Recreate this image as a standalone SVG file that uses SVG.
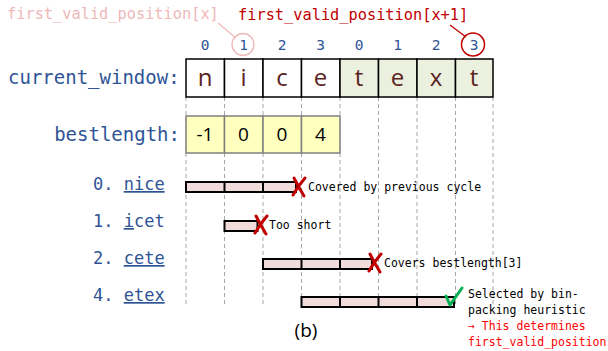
<svg xmlns="http://www.w3.org/2000/svg" width="608" height="351" viewBox="0 0 608 351">
<style>
.mono{font-family:"DejaVu Sans Mono","Liberation Mono",monospace}
.sans{font-family:"Open Sans","Liberation Sans",sans-serif}
.blue{fill:#2f5496}
.idx{font-size:14.5px;text-anchor:middle}
.lbl{font-size:19px}
.row{font-size:17px}
.ann{font-size:11.5px;fill:#000}
.cw{fill:#fff;stroke:#000;stroke-width:1.5}
.cwg{fill:#ebf1de;stroke:#000;stroke-width:1.5}
.ch{font-size:24px;fill:#5b2323;text-anchor:middle}
.bl{fill:#ffffbf;stroke:#808080;stroke-width:1.5}
.bn{font-size:19px;fill:#000;text-anchor:middle}
.bar{fill:#f2dcdb;stroke:#000;stroke-width:2}
.seg{stroke:#000;stroke-width:2}
.dash{stroke:#a6a6a6;stroke-width:1;stroke-dasharray:4 3}
.x{stroke:#c00000;stroke-width:3;fill:none;stroke-linecap:round}
</style>
<rect width="608" height="351" fill="#fff"/>
<g id="guides">
<line class="dash" x1="186" y1="97" x2="186" y2="304"/>
<line class="dash" x1="224.5" y1="97" x2="224.5" y2="304"/>
<line class="dash" x1="263" y1="97" x2="263" y2="304"/>
<line class="dash" x1="301.5" y1="97" x2="301.5" y2="304"/>
<line class="dash" x1="340" y1="97" x2="340" y2="304"/>
<line class="dash" x1="378.5" y1="97" x2="378.5" y2="304"/>
<line class="dash" x1="417" y1="97" x2="417" y2="304"/>
<line class="dash" x1="455.5" y1="97" x2="455.5" y2="304"/>
<line class="dash" x1="493" y1="97" x2="493" y2="304"/>
</g>
<g id="pointer-labels">
<text class="mono" x="7" y="19" font-size="15.3" fill="#eeb8b8">first_valid_position[x]</text>
<text class="mono" x="238" y="20" font-size="15.3" fill="#c00000">first_valid_position[x+1]</text>
</g>
<g id="connectors">
<line x1="218" y1="23" x2="236" y2="38" stroke="#eeb8b8" stroke-width="1.3"/>
<line x1="450" y1="25" x2="466" y2="37" stroke="#c00000" stroke-width="1.3"/>
<circle cx="243" cy="44.5" r="11" fill="none" stroke="#eeb8b8" stroke-width="1.3"/>
<circle cx="473" cy="44.5" r="11.5" fill="none" stroke="#c00000" stroke-width="1.5"/>
</g>
<g id="indices" class="mono blue idx">
<text x="205" y="50">0</text>
<text x="243.5" y="50">1</text>
<text x="282" y="50">2</text>
<text x="320.5" y="50">3</text>
<text x="359" y="50">0</text>
<text x="397.5" y="50">1</text>
<text x="436" y="50">2</text>
<text x="474" y="50">3</text>
</g>
<g id="current_window">
<text class="mono blue lbl" x="8" y="84">current_window:</text>
<rect class="cw" x="186" y="59" width="38.5" height="38"/>
<rect class="cw" x="224.5" y="59" width="38.5" height="38"/>
<rect class="cw" x="263" y="59" width="38.5" height="38"/>
<rect class="cw" x="301.5" y="59" width="38.5" height="38"/>
<rect class="cwg" x="340" y="59" width="38.5" height="38"/>
<rect class="cwg" x="378.5" y="59" width="38.5" height="38"/>
<rect class="cwg" x="417" y="59" width="38.5" height="38"/>
<rect class="cwg" x="455.5" y="59" width="37.5" height="38"/>
<g class="sans ch">
<text x="205" y="86">n</text>
<text x="243.5" y="86">i</text>
<text x="282" y="86">c</text>
<text x="320.5" y="86">e</text>
<text x="359" y="86">t</text>
<text x="397.5" y="86">e</text>
<text x="436" y="86">x</text>
<text x="474" y="86">t</text>
</g>
</g>
<g id="bestlength">
<text class="mono blue lbl" x="180" y="141" text-anchor="end">bestlength:</text>
<rect class="bl" x="186" y="116" width="38.5" height="37"/>
<rect class="bl" x="224.5" y="116" width="38.5" height="37"/>
<rect class="bl" x="263" y="116" width="38.5" height="37"/>
<rect class="bl" x="301.5" y="116" width="38.5" height="37"/>
<g class="sans bn">
<text x="205" y="141">-1</text>
<text x="243.5" y="141">0</text>
<text x="282" y="141">0</text>
<text x="320.5" y="141">4</text>
</g>
</g>
<g id="row-nice">
<text class="mono blue row" x="93" y="190">0. <tspan text-decoration="underline">nice</tspan></text>
<rect class="bar" x="186" y="182" width="110" height="10"/>
<line class="seg" x1="224.5" y1="182" x2="224.5" y2="192"/>
<line class="seg" x1="263" y1="182" x2="263" y2="192"/>
<path class="x" d="M294,178 Q298,186 304,196 M305,178 Q298,186 293,195"/>
<text class="mono ann" x="308" y="191">Covered by previous cycle</text>
</g>
<g id="row-icet">
<text class="mono blue row" x="93" y="227">1. <tspan text-decoration="underline">i</tspan>cet</text>
<rect class="bar" x="224.5" y="221" width="33" height="10"/>
<path class="x" d="M256,216 Q260,224 266,234 M267,216 Q260,224 255,233"/>
<text class="mono ann" x="269" y="229">Too short</text>
</g>
<g id="row-cete">
<text class="mono blue row" x="93" y="264">2. <tspan text-decoration="underline">cete</tspan></text>
<rect class="bar" x="263" y="259" width="109" height="10"/>
<line class="seg" x1="301.5" y1="259" x2="301.5" y2="269"/>
<line class="seg" x1="340" y1="259" x2="340" y2="269"/>
<path class="x" d="M370,254 Q374,262 380,272 M381,254 Q374,262 369,271"/>
<text class="mono ann" x="384" y="267">Covers bestlength[3]</text>
</g>
<g id="row-etex">
<text class="mono blue row" x="93" y="301">4. <tspan text-decoration="underline">etex</tspan></text>
<rect class="bar" x="301.5" y="297" width="152.5" height="10"/>
<line class="seg" x1="340" y1="297" x2="340" y2="307"/>
<line class="seg" x1="378.5" y1="297" x2="378.5" y2="307"/>
<line class="seg" x1="417" y1="297" x2="417" y2="307"/>
<path d="M446,296 L450,305 L462,288" fill="none" stroke="#00b050" stroke-width="3" stroke-linecap="round" stroke-linejoin="round"/>
<text class="mono ann" x="468" y="298">Selected by bin-</text>
<text class="mono ann" x="468" y="314">packing heuristic</text>
<text class="mono ann" x="468" y="330" style="fill:#ff0000">→ This determines</text>
<text class="mono ann" x="468" y="346" style="fill:#ff0000">first_valid_position</text>
</g>
<text class="sans" x="306" y="337" font-size="19" text-anchor="middle" fill="#000">(b)</text>
</svg>
